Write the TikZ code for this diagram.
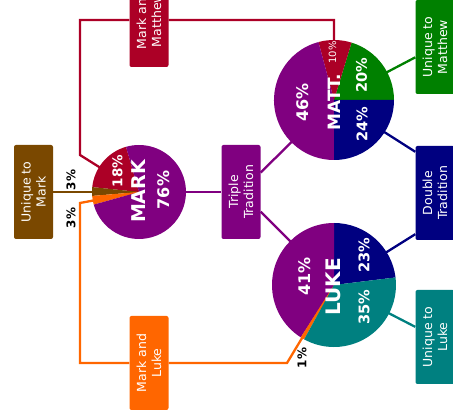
\documentclass[tikz,border=0pt]{standalone}
\usepackage{fontspec}
\setmainfont{DejaVu Sans}
\usetikzlibrary{calc,backgrounds}
\definecolor{gpurple}{RGB}{128,0,128}
\definecolor{gred}{RGB}{172,0,38}
\definecolor{gbrown}{RGB}{122,72,0}
\definecolor{gorange}{RGB}{255,102,0}
\definecolor{ggreen}{RGB}{0,128,0}
\definecolor{gnavy}{RGB}{0,0,128}
\definecolor{gteal}{RGB}{0,128,128}

\begin{document}
\begin{tikzpicture}[x=1pt,y=1pt,
    box/.style={rounded corners=2pt, rotate=90, text=white, align=center,
      minimum width=94pt, minimum height=39pt, inner sep=2pt,
      font=\fontsize{12.5}{15}\selectfont},
    lbl/.style={rotate=90, text=white, inner sep=0pt,
      font=\bfseries\fontsize{#1}{#1}\selectfont},
    outlbl/.style={rotate=90, inner sep=0pt,
      font=\bfseries\fontsize{12}{12}\selectfont},
    con/.style={line width=2.3pt}]
    \useasboundingbox (0,0) rectangle (453,417);
    \clip (0,0) rectangle (453,417);
    % pie centres
    \coordinate (mk) at (139,225);
    \coordinate (mt) at (334,317);
    \coordinate (lk) at (334,132);
    % bends
    \coordinate (r1) at (80,262);
    \coordinate (o1) at (80,214);
    \coordinate (o2) at (287,54);
    % boxes
    \node[box,fill=gbrown] (um) at (33.5,225) {Unique to\\Mark};
    \node[box,fill=gred] (mm) at (149,397) {Mark and\\Matthew};
    \node[box,fill=gpurple] (tt) at (241,225) {Triple\\Tradition};
    \node[box,fill=ggreen] (ut) at (435,370) {Unique to\\Matthew};
    \node[box,fill=gnavy] (db) at (435,224) {Double\\Tradition};
    \node[box,fill=gteal] (ul) at (435,80) {Unique to\\Luke};
    \node[box,fill=gorange] (ml) at (149,54) {Mark and\\Luke};
    \coordinate (dba) at ($(db.north east)!6pt!(db.north west)$);
    \coordinate (dbb) at ($(db.north west)!6pt!(db.north east)$);
    % pies
    \foreach \a/\b/\c in {106/174/gred, 174/184.8/gbrown, 184.8/195.6/gorange, 195.6/466/gpurple}
      \fill[\c] (mk) -- ++(\a:47) arc[start angle=\a, end angle=\b, radius=47] -- cycle;
    \foreach \a/\b/\c in {0/73/ggreen, 73/105/gred, 105/270/gpurple, 270/360/gnavy}
      \fill[\c] (mt) -- ++(\a:60) arc[start angle=\a, end angle=\b, radius=60] -- cycle;
    \foreach \a/\b/\c in {7/90/gnavy, 90/237.6/gpurple, 237.6/241.2/gorange, 241.2/367/gteal}
      \fill[\c] (lk) -- ++(\a:62) arc[start angle=\a, end angle=\b, radius=62] -- cycle;
    % labels
    \node[lbl=19] (mkt) at (138.5,225.5) {MARK};
    \node[lbl=16] (mk76) at (163.5,227) {76\%};
    \node[lbl=13.5] (mk18) at (117.5,246) {18\%};
    \node[outlbl] (mk3a) at (71,237) {3\%};
    \node[outlbl] (mk3b) at (71,199) {3\%};
    \node[lbl=17] (mtt) at (334.5,315) {MATT.};
    \node[lbl=10, font=\fontsize{10}{10}\selectfont] (mt10) at (332.5,364.5) {10\%};
    \node[lbl=14.6] (mt20) at (361.5,341.5) {20\%};
    \node[lbl=14.6] (mt24) at (362,292.5) {24\%};
    \node[lbl=16] (mt46) at (302.5,314.5) {46\%};
    \node[lbl=20] (lkt) at (333.5,130) {LUKE};
    \node[lbl=16] (lk41) at (304.5,140.5) {41\%};
    \node[lbl=14.6] (lk23) at (364,161.5) {23\%};
    \node[lbl=14.6] (lk35) at (364,109.5) {35\%};
    \node[outlbl] (lk1) at (302,59) {1\%};
    % connectors
    \begin{scope}[on background layer]
      \draw[con,gbrown] (um) -- (mk);
      \draw[con,gred] (mk) -- (r1) |- (mm) -| (mt);
      \draw[con,gorange] (mk) -- (o1) |- (ml) -- (o2) -- (lk);
      \draw[con,gpurple] (mk) -- (tt);
      \draw[con,gpurple] (tt) -- (mt);
      \draw[con,gpurple] (tt) -- (lk);
      \draw[con,ggreen] (ut) -- (mt);
      \draw[con,gnavy] (dba) -- (mt);
      \draw[con,gnavy] (dbb) -- (lk);
      \draw[con,gteal] (ul) -- (lk);
    \end{scope}
  \end{tikzpicture}
\end{document}
